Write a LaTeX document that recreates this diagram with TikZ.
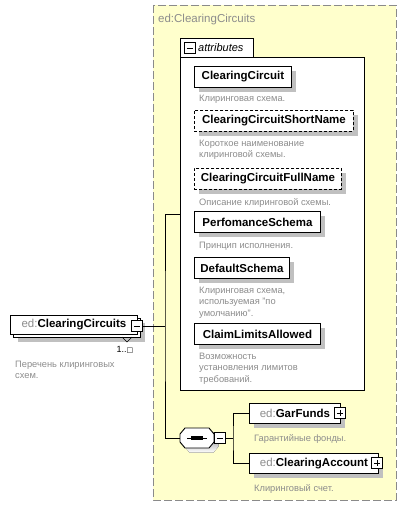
\documentclass[tikz,border=0pt]{standalone}
\usepackage{fontspec}
\setmainfont{Liberation Sans}
\newfontfamily\symfont{DejaVu Sans}
\usepackage{xcolor}
\usetikzlibrary{shadows,positioning,calc}
\definecolor{typebg}{HTML}{FFFFCC}
\definecolor{descgray}{HTML}{8C8C8C}
\definecolor{shade}{HTML}{C0C0C0}
\definecolor{dashgray}{HTML}{8A8A8A}

\begin{document}
\begin{tikzpicture}[x=1pt,y=-1pt,
  box/.style={draw, line width=0.9pt, fill=white, anchor=north west, inner sep=0pt,
    minimum height=21pt, font=\fontsize{11.5}{13}\selectfont\bfseries},
  elem/.style={box, drop shadow={shadow xshift=4.5pt, shadow yshift=-4.5pt, fill=shade, opacity=1}},
  optelem/.style={elem, dash pattern=on 3pt off 2pt},
  desc/.style={anchor=north west, inner sep=0pt, align=left, text=descgray,
    font=\fontsize{9.3}{11.3}\selectfont},
  conn/.style={line width=0.9pt},
  pm/.style={draw, fill=white, line width=0.9pt, minimum size=10.5pt, inner sep=0pt},
  minus/.style={pm, path picture={\draw[line width=0.9pt]
    ([xshift=2pt]path picture bounding box.west) -- ([xshift=-2pt]path picture bounding box.east);}},
  plus/.style={pm, path picture={\draw[line width=0.9pt]
    ([xshift=2pt]path picture bounding box.west) -- ([xshift=-2pt]path picture bounding box.east)
    ([yshift=-2pt]path picture bounding box.north) -- ([yshift=2pt]path picture bounding box.south);}}]
\useasboundingbox (0,0) rectangle (406,508);

% Type area
\draw[dashgray, line width=0.9pt, dash pattern=on 8pt off 3pt, fill=typebg] (153,5) rectangle (396,500);
\node[anchor=base west, inner sep=0pt, text=descgray, font=\fontsize{11.5}{13}\selectfont] (typename) at (158,23) {ed:ClearingCircuits};

% Attributes container
\node[draw, line width=0.9pt, fill=white, anchor=north west, minimum width=184pt, minimum height=333pt] (attr) at (180,57) {};
\filldraw[line width=0.9pt, fill=white] (attr.north west) -- ++(0,-19) -- ++(73,0) -- ++(0,19);
\node[minus] (attrminus) at (190,48) {};
\node[anchor=west, inner sep=0pt, font=\fontsize{11}{13}\selectfont\itshape] (attrlabel) at (198,48) {attributes};

% Attributes
\node[elem, minimum width=97pt] (cc) at (194,66) {ClearingCircuit};
\node[desc, below right=7pt and 5pt of cc.south west] (ccdesc) {Клиринговая схема.};

\node[optelem, minimum width=159pt] (short) at (194,110) {ClearingCircuitShortName};
\node[desc, below right=8pt and 5pt of short.south west] (shortdesc) {Короткое наименование\\клиринговой схемы.};

\node[optelem, minimum width=147pt] (full) at (194,168) {ClearingCircuitFullName};
\node[desc, below right=8pt and 5pt of full.south west] (fulldesc) {Описание клиринговой схемы.};

\node[elem, minimum width=126pt] (perf) at (194,211) {PerfomanceSchema};
\node[desc, below right=9pt and 5pt of perf.south west] (perfdesc) {Принцип исполнения.};

\node[elem, minimum width=95pt] (dflt) at (194,257) {DefaultSchema};
\node[desc, below right=8pt and 5pt of dflt.south west] (dfltdesc) {Клиринговая схема,\\используемая "по\\умолчанию".};

\node[elem, minimum width=126pt] (claim) at (194,323) {ClaimLimitsAllowed};
\node[desc, below right=8pt and 5pt of claim.south west] (claimdesc) {Возможность\\установления лимитов\\требований.};

% Root element (repeating)
\node[elem, minimum width=127pt, minimum height=19pt] (rootback) at (13,318) {};
\node[box, minimum width=127pt, minimum height=19pt] (root) at (10,315)
  {\textcolor{descgray}{\mdseries ed:}ClearingCircuits};
\node[minus] (rootminus) at (137,326) {};
\draw[line width=0.6pt] (122,337) -- (127,342) -- (132,337);
\node[inner sep=0pt, font=\fontsize{9}{11}\selectfont] (mult) at (125,350) {1..{\symfont\fontsize{7}{8}\selectfont □}};
\node[desc] (rootdesc) at (15,361) {Перечень клиринговых\\схем.};

% Sequence
\coordinate (seq) at (197,438);
\coordinate (seqw) at (180,438);
\fill[shade] ($(seq)+(4.5,4.5)$) +(-17,-4) -- +(-12,-10) -- +(12,-10) -- +(17,-4)
  -- +(17,4) -- +(12,10) -- +(-12,10) -- +(-17,4) -- cycle;
\filldraw[line width=0.9pt, fill=white] (seq) +(-17,-4) -- +(-12,-10) -- +(12,-10) -- +(17,-4)
  -- +(17,4) -- +(12,10) -- +(-12,10) -- +(-17,4) -- cycle;
\draw[line width=0.9pt] ($(seq)+(-10,0)$) -- ($(seq)+(10,0)$);
\foreach \dx in {-4,0,4}
  \fill ($(seq)+(\dx,0)+(-1.6,-1.6)$) rectangle ++(3.2,3.2);
\node[minus] (seqminus) at (220,438) {};

% Children
\node[elem, minimum width=91pt, minimum height=20pt] (gar) at (249,403)
  {\textcolor{descgray}{\mdseries ed:}GarFunds\hspace{6pt}};
\node[plus] (garplus) at (340,413) {};
\node[desc, below right=10pt and 5pt of gar.south west] (gardesc) {Гарантийные фонды.};

\node[elem, minimum width=129pt, minimum height=20pt] (acc) at (249,453)
  {\textcolor{descgray}{\mdseries ed:}ClearingAccount\hspace{4pt}};
\node[plus] (accplus) at (377,463) {};
\node[desc, below right=10pt and 5pt of acc.south west] (accdesc) {Клиринговый счет.};

% Connectors
\coordinate (spine) at (165,326);
\coordinate (attrin) at (180,214);
\coordinate (fork) at (233,438);
\draw[conn] (rootminus.east) -- (spine);
\draw[conn] (attrin) -| (spine) |- (seqw);
\draw[conn] (seqminus.east) -- (fork);
\draw[conn] (gar.west) -| (fork) |- (acc.west);

\end{tikzpicture}
\end{document}
